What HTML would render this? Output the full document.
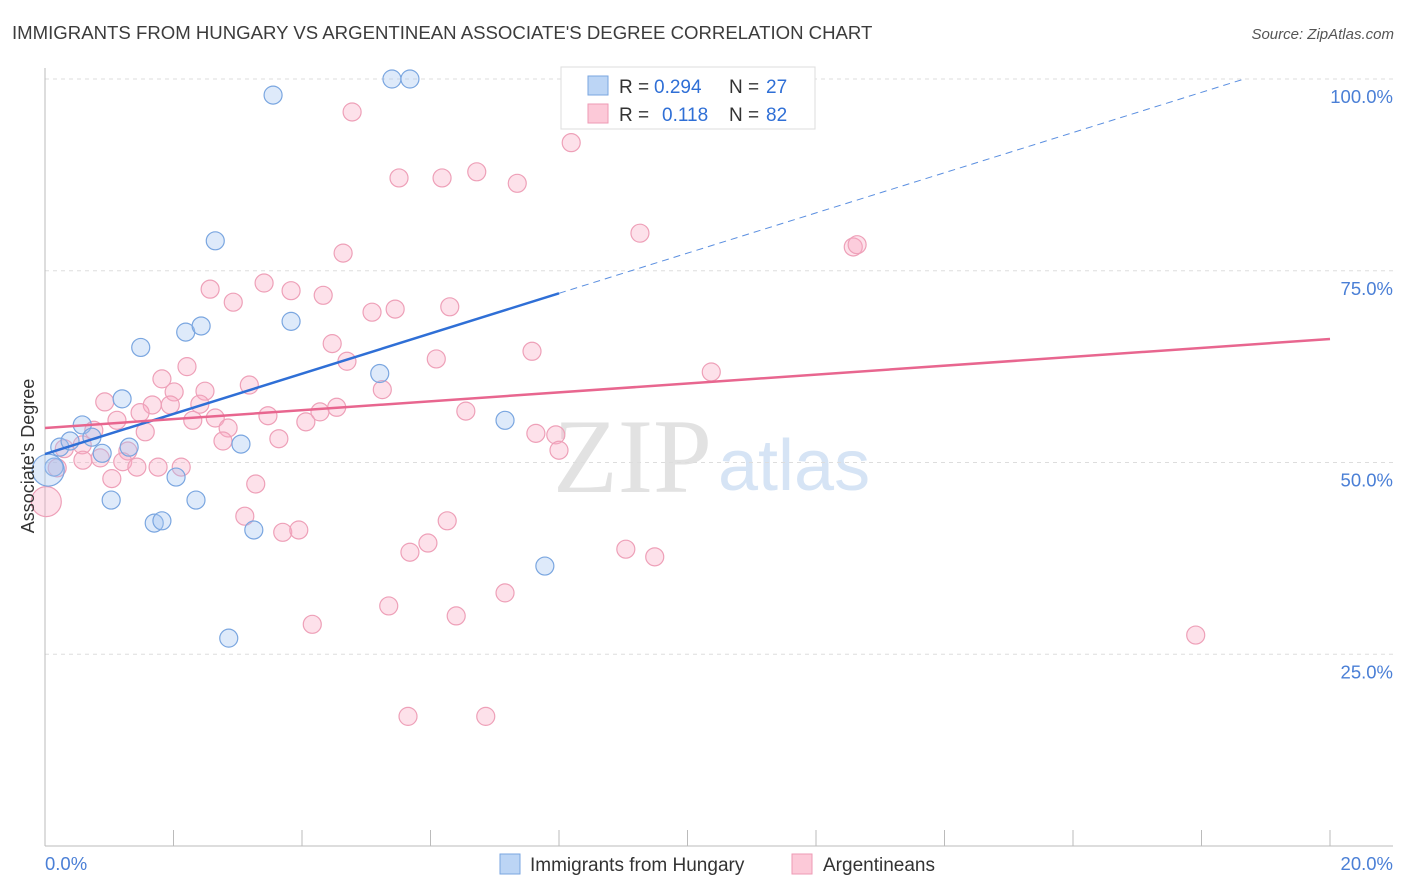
<!DOCTYPE html>
<html><head><meta charset="utf-8">
<style>
body{margin:0;background:#fff;font-family:"Liberation Sans",sans-serif;}
svg{display:block}
</style></head>
<body>
<svg id="chart" width="1406" height="892" viewBox="0 0 1406 892" xmlns="http://www.w3.org/2000/svg">
<text x="12" y="39" font-size="18.6" fill="#3c3c3c">IMMIGRANTS FROM HUNGARY VS ARGENTINEAN ASSOCIATE'S DEGREE CORRELATION CHART</text>
<text x="1394" y="39" font-size="15" fill="#555" text-anchor="end" font-style="italic">Source: ZipAtlas.com</text>
<g>
<text x="553" y="492" font-size="106" fill="#e2e2e2" font-family="Liberation Serif,serif">ZIP</text>
<text x="718" y="490" font-size="72" fill="#d6e4f5">atlas</text>
</g>
<g id="grid"></g>
<g id="axes"></g>
<g id="marks"></g>
<g>
<rect x="561" y="67" width="254" height="62" fill="#fff" stroke="#ddd"/>
<rect x="588" y="76" width="20" height="19" fill="#bcd5f5" stroke="#7aa6e0"/>
<rect x="588" y="104" width="20" height="19" fill="#fcc9d8" stroke="#ee9ab4"/>
<text x="619" y="93" font-size="19" fill="#333">R =</text>
<text x="654" y="93" font-size="19" fill="#2f6fd6">0.294</text>
<text x="729" y="93" font-size="19" fill="#333">N =</text>
<text x="766" y="93" font-size="19" fill="#2f6fd6">27</text>
<text x="619" y="121" font-size="19" fill="#333">R =</text>
<text x="662" y="121" font-size="19" fill="#2f6fd6">0.118</text>
<text x="729" y="121" font-size="19" fill="#333">N =</text>
<text x="766" y="121" font-size="19" fill="#2f6fd6">82</text>
</g>
<g>
<rect x="500" y="854" width="20" height="20" fill="#bcd5f5" stroke="#7aa6e0"/>
<text x="530" y="871" font-size="19" fill="#333">Immigrants from Hungary</text>
<rect x="792" y="854" width="20" height="20" fill="#fcc9d8" stroke="#ee9ab4"/>
<text x="823" y="871" font-size="19" fill="#333">Argentineans</text>
</g>
<text transform="translate(34,456) rotate(-90)" text-anchor="middle" font-size="18" fill="#333">Associate's Degree</text>
</svg>
<script>
const blueX=[5.40,5.68,3.55,2.65,2.19,2.43,3.83,1.49,5.21,1.20,0.58,0.23,0.39,0.73,1.31,0.89,0.14,2.04,1.03,2.35,1.70,1.82,3.05,3.25,7.16,7.78,2.86,0.05];
const blueY=[100,100,97.9,78.9,67.0,67.8,68.4,65.0,61.6,58.3,54.9,52.0,52.8,53.3,52.0,51.2,49.4,48.1,45.1,45.1,42.1,42.4,52.4,41.2,55.5,36.5,27.1,49.0];
const blueR=[9,9,9,9,9,9,9,9,9,9,9,9,9,9,9,9,9,9,9,9,9,9,9,9,9,9,9,16];
const pinkX=[4.78,8.19,5.51,6.18,6.72,7.35,9.26,4.64,12.58,12.64,2.57,3.41,3.83,2.93,4.33,5.09,5.45,6.30,4.47,6.09,7.58,4.70,2.21,1.82,3.18,5.25,10.37,2.01,2.49,0.93,1.67,1.95,2.41,1.48,1.12,2.30,2.65,3.47,4.06,4.28,4.54,6.55,1.56,2.85,0.76,2.77,3.64,7.64,7.95,8.00,0.58,0.30,0.86,0.59,1.29,1.21,1.43,1.76,2.12,0.19,1.04,3.28,3.11,3.70,3.95,6.26,5.96,5.68,9.04,9.49,5.35,7.16,6.40,4.16,17.91,5.65,6.86,0.02];
const pinkY=[95.7,91.7,87.1,87.1,87.9,86.4,79.9,77.3,78.1,78.4,72.6,73.4,72.4,70.9,71.8,69.6,70.0,70.3,65.5,63.5,64.5,63.2,62.5,60.9,60.1,59.5,61.8,59.2,59.3,57.9,57.5,57.5,57.6,56.5,55.5,55.5,55.8,56.1,55.3,56.6,57.2,56.7,54.0,54.5,54.2,52.8,53.1,53.8,53.6,51.6,52.3,51.8,50.6,50.3,51.5,50.1,49.4,49.4,49.4,49.3,47.9,47.2,43.0,40.9,41.2,42.4,39.5,38.3,38.7,37.7,31.3,33.0,30.0,28.9,27.5,16.9,16.9,44.9];
const yTicks=[25,50,75,100];
const yTickLabels=["25.0%","50.0%","75.0%","100.0%"];
const xTicks=[0,2,4,6,8,10,12,14,16,18,20];
const blueTrend=[51.1,2.62];
const blueSolidEnd=8.0;
const pinkTrend=[54.5,0.58];

const NS="http://www.w3.org/2000/svg";
const X=v=>45+v*64.25;
const Y=v=>846-v*7.67;
function mk(tag,attrs,parent){const e=document.createElementNS(NS,tag);for(const k in attrs)e.setAttribute(k,attrs[k]);document.getElementById(parent).appendChild(e);return e;}

yTicks.forEach((t,i)=>{
  const g=mk('line',{x1:45,x2:1393,y1:Y(t),y2:Y(t),stroke:'#ddd','stroke-dasharray':'4,4'},'grid');
  
  
  const l=mk('text',{x:1393,y:Y(t)+24,'text-anchor':'end','font-size':18.5,fill:'#4a7fd6'},'axes');
  l.textContent=yTickLabels[i];
  
  
});
const ya=mk('line',{x1:45,x2:45,y1:68,y2:846,stroke:'#bbb'},'axes');


const xa=mk('line',{x1:45,x2:1393,y1:846,y2:846,stroke:'#bbb'},'axes');


xTicks.forEach(t=>{
  const tk=mk('line',{x1:X(t),x2:X(t),y1:830,y2:846,stroke:'#bbb'},'axes');
  
  
});
const x0=mk('text',{x:45,y:870,'font-size':18.5,fill:'#4a7fd6'},'axes');x0.textContent='0.0%';


const x1=mk('text',{x:1393,y:870,'font-size':18.5,fill:'#4a7fd6','text-anchor':'end'},'axes');x1.textContent='20.0%';



pinkX.forEach((v,i)=>{
  const r=(i===pinkX.length-1)?15:9;
  const c=mk('circle',{cx:X(v),cy:Y(pinkY[i]),r:r,fill:'rgba(248,170,195,0.35)',stroke:'#eea0b8','stroke-width':1.2},'marks');
  
  
});
blueX.forEach((v,i)=>{
  const c=mk('circle',{cx:X(v),cy:Y(blueY[i]),r:blueR[i],fill:'rgba(160,195,240,0.35)',stroke:'#7aa6e0','stroke-width':1.2},'marks');
  
  
});
const bf=x=>blueTrend[0]+blueTrend[1]*x;
const bs=mk('line',{x1:X(0),y1:Y(bf(0)),x2:X(blueSolidEnd),y2:Y(bf(blueSolidEnd)),stroke:'#2f6fd6','stroke-width':2.5},'marks');


const xEnd=(100-blueTrend[0])/blueTrend[1];
const bd=mk('line',{x1:X(blueSolidEnd),y1:Y(bf(blueSolidEnd)),x2:X(xEnd),y2:Y(100),stroke:'#5b8fe0','stroke-width':1,'stroke-dasharray':'7,5'},'marks');


const pf=x=>pinkTrend[0]+pinkTrend[1]*x;
const pl=mk('line',{x1:X(0),y1:Y(pf(0)),x2:X(20),y2:Y(pf(20)),stroke:'#e8668f','stroke-width':2.5},'marks');


</script>
</body></html>
